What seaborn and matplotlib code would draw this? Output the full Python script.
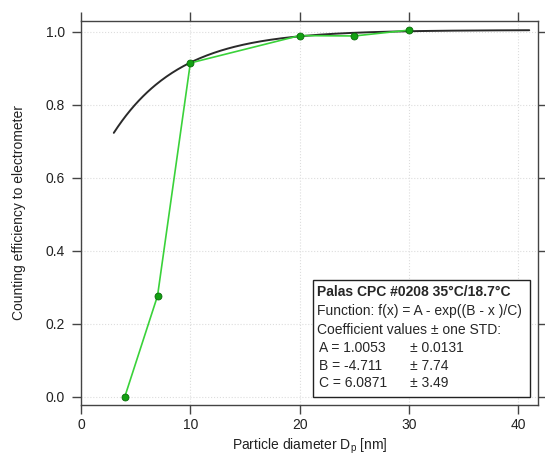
import numpy as np
import pandas as pd
import matplotlib
matplotlib.use("Agg")
import matplotlib.pyplot as plt
import seaborn as sns
from matplotlib.patches import Rectangle

# measured counting efficiency
diameter_nm = [4, 7, 10, 20, 25, 30]
efficiency = [0.0, 0.277, 0.915, 0.990, 0.989, 1.005]

# fit coefficients shown in the legend box
coef_names = ["A", "B", "C"]
coef_values = [1.0053, -4.711, 6.0871]
coef_std = [0.0131, 7.74, 3.49]
fit_range = [3, 41]

sns.set_theme(style="ticks")
plt.rcParams["font.family"] = ["Liberation Sans", "DejaVu Sans"]
plt.rcParams["mathtext.fontset"] = "custom"
plt.rcParams["mathtext.rm"] = "Liberation Sans"

df_meas = pd.DataFrame({"d": diameter_nm, "eff": efficiency})
A, B, C = coef_values
x_fit = np.linspace(fit_range[0], fit_range[1], 300)
df_fit = pd.DataFrame({"d": x_fit, "eff": A - np.exp((B - x_fit) / C)})

fig = plt.figure(figsize=(5.45, 4.57), dpi=100)
ax = fig.add_axes([81 / 545, 52 / 457, 457 / 545, 384 / 457])

sns.lineplot(data=df_fit, x="d", y="eff", ax=ax, color="#2a2a2a", lw=1.4)
sns.lineplot(data=df_meas, x="d", y="eff", ax=ax, color="#3ad23a", lw=1.2,
             marker="o", markersize=5, markerfacecolor="#12a012",
             markeredgecolor="#0a6a0a", markeredgewidth=0.6)

ax.set_xlim(0, 41.8)
ax.set_ylim(-0.022, 1.030)
ax.set_xticks([0, 10, 20, 30, 40])
ax.set_yticks([0.0, 0.2, 0.4, 0.6, 0.8, 1.0])
ax.set_yticklabels(["0.0", "0.2", "0.4", "0.6", "0.8", "1.0"])
ax.grid(True, color="#dddddd", linestyle=":", linewidth=0.8)

for sp in ax.spines.values():
    sp.set_color("#444444")
    sp.set_linewidth(1.0)
ax.tick_params(direction="out", length=6.5, width=1.0, color="#444444",
               labelsize=10, labelcolor="#222222", pad=3,
               top=True, right=True, labeltop=False, labelright=False)
ax.tick_params(axis="y", pad=5)

ax.set_xlabel("Particle diameter D$_\\mathregular{p}$ [nm]", fontsize=10, color="#222222", labelpad=3)
ax.set_ylabel("Counting efficiency to electrometer", fontsize=10, color="#222222", labelpad=14)

# legend / annotation box
ax.add_patch(Rectangle((0.508, 0.021), 0.474, 0.305, transform=ax.transAxes,
                       facecolor="white", edgecolor="#222222", lw=1.0, zorder=5))
lines_y = [0.294, 0.245, 0.196, 0.148, 0.102, 0.057]
tx = 0.516
ax.text(tx, lines_y[0], "Palas CPC #0208 35°C/18.7°C", transform=ax.transAxes,
        fontsize=10, fontweight="bold", va="center", zorder=6)
ax.text(tx, lines_y[1], "Function: f(x) = A - exp((B - x )/C)", transform=ax.transAxes,
        fontsize=10, va="center", zorder=6)
ax.text(tx, lines_y[2], "Coefficient values ± one STD:", transform=ax.transAxes,
        fontsize=10, va="center", zorder=6)
for i, (n, v, s) in enumerate(zip(coef_names, coef_values, coef_std)):
    ax.text(tx + 0.004, lines_y[3 + i], f"{n} = {v:g}", transform=ax.transAxes,
            fontsize=10, va="center", zorder=6)
    ax.text(0.72, lines_y[3 + i], f"± {s:g}", transform=ax.transAxes,
            fontsize=10, va="center", zorder=6)

fig.savefig("out.png", dpi=100)
